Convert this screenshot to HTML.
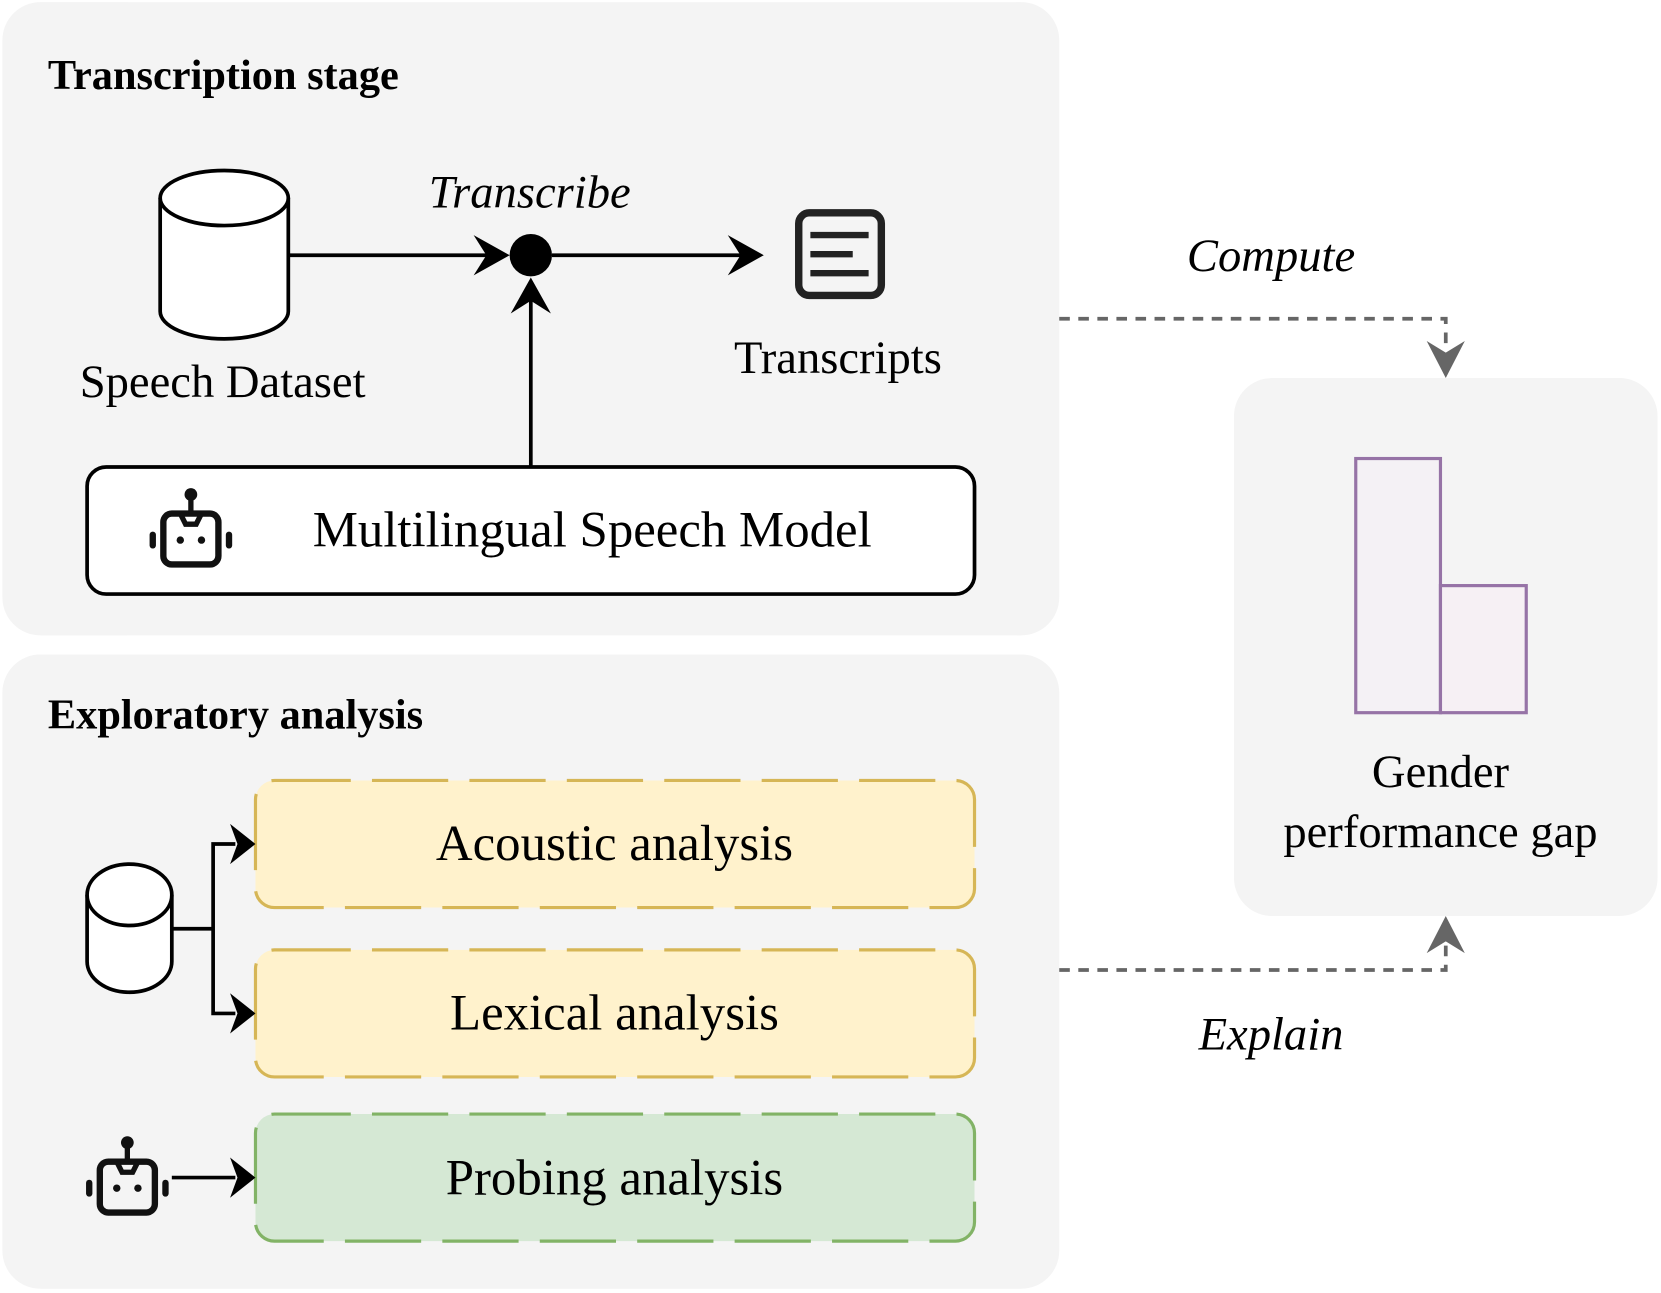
<!DOCTYPE html>
<html><head><meta charset="utf-8"><style>
html,body{margin:0;padding:0;background:#fff;}
svg{display:block;}
text{font-family:"Liberation Serif",serif;fill:#000;}
</style></head><body>
<svg width="1661" height="1293" viewBox="0 0 1568 1221" xmlns="http://www.w3.org/2000/svg">
<defs>
<g id="robot">
  <rect x="-26" y="-17" width="52" height="48" rx="8" fill="none" stroke="#111" stroke-width="6"/>
  <line x1="0" y1="-34" x2="0" y2="-17" stroke="#111" stroke-width="5"/>
  <circle cx="0" cy="-35" r="6" fill="#111"/>
  <path d="M-10,-17 L-5,-7 L5,-7 L10,-17" fill="none" stroke="#111" stroke-width="5"/>
  <circle cx="-10" cy="8" r="3.5" fill="#111"/>
  <circle cx="10" cy="8" r="3.5" fill="#111"/>
  <rect x="-39" y="0" width="6" height="16" rx="3" fill="#111"/>
  <rect x="33" y="0" width="6" height="16" rx="3" fill="#111"/>
</g>
</defs>

<rect x="2" y="2" width="998" height="598" rx="36" fill="#f4f4f4"/>
<rect x="2" y="618" width="998" height="599" rx="36" fill="#f4f4f4"/>
<rect x="1165" y="357" width="400" height="508" rx="36" fill="#f4f4f4"/>

<text x="45" y="84" font-size="40" font-weight="bold">Transcription stage</text>
<text x="45" y="688" font-size="40" font-weight="bold">Exploratory analysis</text>

<path d="M151,187 L151,294 A60.5,26 0 0 0 272,294 L272,187" fill="#fff" stroke="#000" stroke-width="3.5"/>
<ellipse cx="211.5" cy="187" rx="60.5" ry="26" fill="#fff" stroke="#000" stroke-width="3.5"/>
<text x="210" y="375" font-size="44" text-anchor="middle">Speech Dataset</text>

<line x1="272" y1="241" x2="460" y2="241" stroke="#000" stroke-width="3.5"/>
<path d="M481,241 L447,222 L459,241 L447,260 Z" fill="#000"/>
<circle cx="501" cy="241" r="20" fill="#000"/>
<line x1="521" y1="241" x2="700" y2="241" stroke="#000" stroke-width="3.5"/>
<path d="M721,241 L687,222 L699,241 L687,260 Z" fill="#000"/>
<line x1="501" y1="441" x2="501" y2="282" stroke="#000" stroke-width="3.5"/>
<path d="M501,262 L482,296 L501,284 L520,296 Z" fill="#000"/>
<text x="500" y="196" font-size="44" font-style="italic" text-anchor="middle">Transcribe</text>

<rect x="754" y="201" width="78" height="78" rx="10" fill="none" stroke="#222" stroke-width="7"/>
<line x1="765" y1="222" x2="820" y2="222" stroke="#222" stroke-width="6"/>
<line x1="765" y1="240" x2="805" y2="240" stroke="#222" stroke-width="6"/>
<line x1="765" y1="258" x2="820" y2="258" stroke="#222" stroke-width="6"/>
<text x="791" y="352" font-size="44" text-anchor="middle">Transcripts</text>

<rect x="82" y="441" width="838" height="120" rx="18" fill="#fff" stroke="#000" stroke-width="3.5"/>
<use href="#robot" x="180" y="502"/>
<text x="559" y="516" font-size="48" text-anchor="middle">Multilingual Speech Model</text>

<rect x="241" y="737" width="679" height="120" rx="18" fill="#fff2cc" stroke="#d6b656" stroke-width="3" stroke-dasharray="72,20"/>
<text x="580" y="812" font-size="48" text-anchor="middle">Acoustic analysis</text>
<rect x="241" y="897" width="679" height="120" rx="18" fill="#fff2cc" stroke="#d6b656" stroke-width="3" stroke-dasharray="72,20"/>
<text x="580" y="972" font-size="48" text-anchor="middle">Lexical analysis</text>
<rect x="241" y="1052" width="679" height="120" rx="18" fill="#d5e8d4" stroke="#82b366" stroke-width="3" stroke-dasharray="72,20"/>
<text x="580" y="1128" font-size="48" text-anchor="middle">Probing analysis</text>

<path d="M82,845 L82,908 A40,29 0 0 0 162,908 L162,845" fill="#fff" stroke="#000" stroke-width="3.5"/>
<ellipse cx="122" cy="845" rx="40" ry="29" fill="#fff" stroke="#000" stroke-width="3.5"/>
<polyline points="162,877 201,877" fill="none" stroke="#000" stroke-width="3.5"/>
<polyline points="222,797 201,797 201,957 222,957" fill="none" stroke="#000" stroke-width="3.5"/>
<path d="M241,797 L217,778 L224,797 L217,816 Z" fill="#000"/>
<path d="M241,957 L217,938 L224,957 L217,976 Z" fill="#000"/>

<use href="#robot" x="120" y="1114"/>
<line x1="162" y1="1112" x2="222" y2="1112" stroke="#000" stroke-width="3.5"/>
<path d="M241,1112 L217,1093 L224,1112 L217,1131 Z" fill="#000"/>

<rect x="1280" y="433" width="80" height="240" fill="#f4f1f5" stroke="#9673a6" stroke-width="3"/>
<rect x="1360" y="553" width="81" height="120" fill="#f6f0f4" stroke="#9673a6" stroke-width="3"/>
<text x="1360" y="743" font-size="44" text-anchor="middle">Gender</text>
<text x="1360" y="800" font-size="44" text-anchor="middle">performance gap</text>

<polyline points="1000,301 1365,301 1365,330" fill="none" stroke="#666" stroke-width="3.5" stroke-dasharray="10,8"/>
<path d="M1365,357 L1347,322 L1365,333 L1383,322 Z" fill="#666"/>
<text x="1200" y="256" font-size="44" font-style="italic" text-anchor="middle">Compute</text>
<polyline points="1000,916 1365,916 1365,892" fill="none" stroke="#666" stroke-width="3.5" stroke-dasharray="10,8"/>
<path d="M1365,865 L1347,900 L1365,889 L1383,900 Z" fill="#666"/>
<text x="1200" y="991" font-size="44" font-style="italic" text-anchor="middle">Explain</text>
</svg>
</body></html>
